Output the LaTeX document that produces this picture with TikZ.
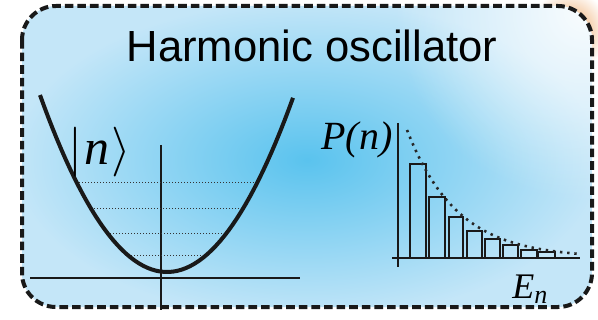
\documentclass[tikz,border=0pt]{standalone}
\usepackage{fontspec}
\newfontfamily\titlefont{Liberation Sans}
\newfontfamily\labelfont{Liberation Serif}
\usepackage{tikz}
\usetikzlibrary{positioning, calc, fadings}

\definecolor{panelglow}{RGB}{90,195,238}
\definecolor{panelpale}{RGB}{196,230,248}
\definecolor{cornerorange}{RGB}{236,160,90}

\tikzfading[name=softglow, inner color=transparent!0, outer color=transparent!100]

\begin{document}
\begin{tikzpicture}[
    x=0.5pt, y=-0.5pt,
    every node/.style={color=black, inner sep=0pt},
    frame/.style={draw=black!90, line width=2pt, dash pattern=on 4.3pt off 2pt,
                  rounded corners=17pt},
    well/.style={draw=black!90, line width=2pt},
    axis/.style={draw=black!90, line width=0.9pt},
    level/.style={draw=black!80, line width=0.5pt, densely dotted},
    bar/.style={draw=black!90, line width=0.6pt},
    trend/.style={draw=black!85, line width=1.3pt, dash pattern=on 1.2pt off 2.4pt},
    title/.style={font=\titlefont\fontsize{21.8}{26}\selectfont},
    lbl/.style={font=\labelfont\itshape\fontsize{20}{24}\selectfont}
]
\useasboundingbox (0,0) rectangle (598,320);

% =========================================================
% BACKGROUND: neighbouring panel corner + shaded frame
% =========================================================
\shade[inner color=cornerorange, outer color=white] (530,-10) rectangle (608,70);
\fill[white] (0,0) rectangle (530,320);
\fill[white] (530,70) rectangle (598,320);
\fill[white, rounded corners=17pt] (22,6) rectangle (592,307);
\begin{scope}
  \clip[rounded corners=17pt] (22,6) rectangle (592,307);
  \shade[inner color=panelglow, outer color=panelpale] (12,0) rectangle (602,320);
  \fill[white, opacity=0.9, path fading=softglow] (585,10) circle (190);
\end{scope}
\draw[frame] (22,6) rectangle (592,307);

% Title
\node[title, anchor=base] (title) at (312,62) {Harmonic oscillator};

% =========================================================
% LEFT: potential well with energy levels
% =========================================================
\draw[axis] (161,145) -- (161,310);
\draw[axis] (30,278) -- (300,278);

% dotted energy levels
\draw[level] (76,182) -- (258,182);
\draw[level] (91,208) -- (243,208);
\draw[level] (107,233) -- (227,233);
\draw[level] (128,255) -- (206,255);

% parabola
\draw[well] plot[domain=40:293, samples=60]
    (\x, {272 - 0.01097*(\x-167)*(\x-167)});

\node[lbl, font=\labelfont\itshape\fontsize{25}{28}\selectfont] (ket) at (100,152)
    {$|$\kern1pt n\kern1pt$\rangle$};

% =========================================================
% RIGHT: occupation histogram P(n) vs E_n
% =========================================================
\draw[axis] (398,123) -- (398,267);
\draw[axis] (392,258) -- (580,258);

\draw[bar] (410,258) rectangle (426,164);
\draw[bar] (429,258) rectangle (445,197);
\draw[bar] (449,258) rectangle (463,217);
\draw[bar] (467,258) rectangle (482,231);
\draw[bar] (485,258) rectangle (500,239);
\draw[bar] (503,258) rectangle (518,245);
\draw[bar] (521,258) rectangle (537,250);
\draw[bar] (538,258) rectangle (555,252);

% decaying envelope
\draw[trend] plot[domain=407:580, samples=50]
    (\x, {258 - 128*exp(-(\x-407)/50)});

\node[lbl, anchor=base] (pn) at (357,150) {P(n)};
\node[lbl, anchor=base west, font=\labelfont\itshape\fontsize{18}{22}\selectfont] (en) at (512,298)
    {E\raisebox{-0.35ex}{\fontsize{13}{15}\selectfont n}};

\end{tikzpicture}
\end{document}
